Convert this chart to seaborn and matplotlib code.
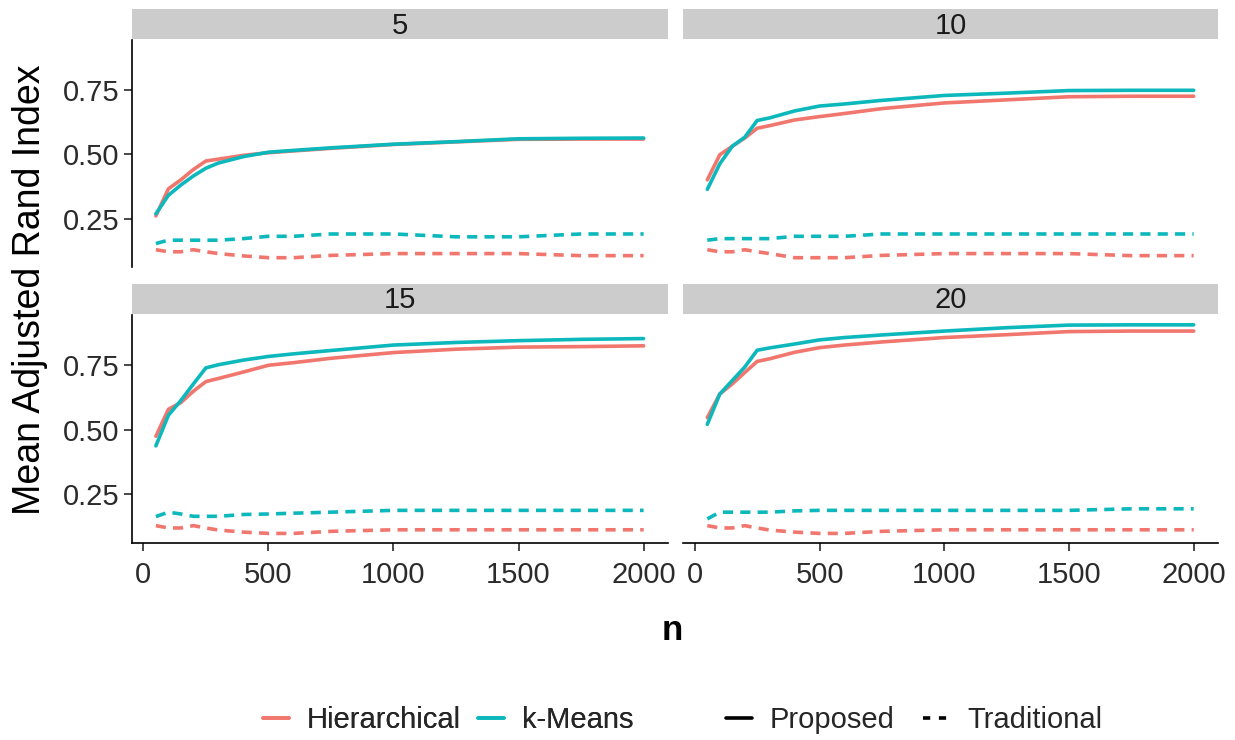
import numpy as np
import pandas as pd
import matplotlib.pyplot as plt
import seaborn as sns
from matplotlib.lines import Line2D

sns.set_style("white")
plt.rcParams['font.family'] = ['Liberation Sans', 'DejaVu Sans']

# values
n_values = [50, 100, 150, 200, 250, 300, 400, 500, 600, 750, 1000, 1250, 1500, 1750, 2000]
panels = [5, 10, 15, 20]
methods = ["Hierarchical", "k-Means"]
types = ["Proposed", "Traditional"]

hier_prop = {
    5:  [0.260, 0.365, 0.400, 0.440, 0.473, 0.480, 0.495, 0.505, 0.512, 0.522, 0.537, 0.547, 0.557, 0.558, 0.558],
    10: [0.400, 0.497, 0.530, 0.562, 0.600, 0.610, 0.632, 0.645, 0.657, 0.676, 0.698, 0.710, 0.722, 0.724, 0.724],
    15: [0.474, 0.578, 0.604, 0.648, 0.685, 0.697, 0.722, 0.748, 0.758, 0.775, 0.797, 0.810, 0.818, 0.820, 0.823],
    20: [0.546, 0.637, 0.676, 0.720, 0.763, 0.773, 0.798, 0.816, 0.826, 0.838, 0.855, 0.866, 0.878, 0.880, 0.880],
}
kmeans_prop = {
    5:  [0.268, 0.340, 0.380, 0.415, 0.445, 0.465, 0.490, 0.507, 0.514, 0.524, 0.538, 0.548, 0.559, 0.561, 0.562],
    10: [0.363, 0.462, 0.530, 0.565, 0.630, 0.640, 0.667, 0.686, 0.694, 0.708, 0.727, 0.736, 0.746, 0.747, 0.747],
    15: [0.437, 0.555, 0.612, 0.676, 0.738, 0.750, 0.768, 0.782, 0.792, 0.805, 0.826, 0.836, 0.843, 0.848, 0.851],
    20: [0.520, 0.637, 0.689, 0.741, 0.806, 0.815, 0.830, 0.846, 0.855, 0.865, 0.880, 0.893, 0.903, 0.904, 0.904],
}
hier_trad = {
    5:  [0.129, 0.121, 0.121, 0.129, 0.121, 0.114, 0.105, 0.098, 0.098, 0.107, 0.114, 0.114, 0.114, 0.106, 0.106],
    10: [0.129, 0.121, 0.121, 0.129, 0.121, 0.114, 0.098, 0.098, 0.098, 0.107, 0.114, 0.114, 0.114, 0.106, 0.106],
    15: [0.129, 0.120, 0.120, 0.129, 0.120, 0.112, 0.104, 0.099, 0.099, 0.107, 0.113, 0.113, 0.113, 0.113, 0.113],
    20: [0.129, 0.120, 0.120, 0.129, 0.120, 0.112, 0.104, 0.099, 0.099, 0.107, 0.113, 0.113, 0.113, 0.113, 0.113],
}
kmeans_trad = {
    5:  [0.153, 0.166, 0.166, 0.166, 0.166, 0.166, 0.172, 0.181, 0.181, 0.190, 0.190, 0.179, 0.179, 0.190, 0.190],
    10: [0.166, 0.172, 0.172, 0.172, 0.172, 0.172, 0.181, 0.181, 0.181, 0.190, 0.190, 0.190, 0.190, 0.190, 0.190],
    15: [0.164, 0.181, 0.174, 0.165, 0.165, 0.165, 0.172, 0.174, 0.177, 0.181, 0.188, 0.188, 0.188, 0.188, 0.188],
    20: [0.155, 0.181, 0.181, 0.181, 0.181, 0.181, 0.186, 0.188, 0.188, 0.188, 0.188, 0.188, 0.188, 0.194, 0.194],
}

rows = []
for k in panels:
    for meth, typ, src in [("Hierarchical", "Proposed", hier_prop), ("k-Means", "Proposed", kmeans_prop),
                           ("Hierarchical", "Traditional", hier_trad), ("k-Means", "Traditional", kmeans_trad)]:
        for n, v in zip(n_values, src[k]):
            rows.append((k, n, meth, typ, v))
df = pd.DataFrame(rows, columns=["k", "n", "method", "type", "ari"])

palette = {"Hierarchical": "#F0766E", "k-Means": "#0CB8BC"}
dash_map = {"Proposed": "", "Traditional": (2.8, 2.0)}

W, H = 1235, 740
fig = plt.figure(figsize=(W / 100, H / 100), dpi=100)

# panel boxes in pixels: (left, top, right, bottom)
boxes = {5: (131.5, 40, 668, 267), 10: (683, 40, 1218, 267),
         15: (131.5, 315, 668, 543), 20: (683, 315, 1218, 543)}
strip_h = 30
tick_col = "#2B2B2B"
lw = 2.6

for k in panels:
    l, t, r, b = boxes[k]
    ax = fig.add_axes([l / W, 1 - b / H, (r - l) / W, (b - t) / H])
    sns.lineplot(data=df[df.k == k], x="n", y="ari", hue="method", style="type",
                 palette=palette, dashes=dash_map, errorbar=None, legend=False,
                 linewidth=lw, ax=ax)
    ax.set_xlim(-47.5, 2097.5)
    ax.set_ylim(0.062, 0.942)
    ax.set_xticks([0, 500, 1000, 1500, 2000])
    ax.set_yticks([0.25, 0.50, 0.75])
    ax.set_yticklabels(["0.25", "0.50", "0.75"])
    ax.set_xlabel("")
    ax.set_ylabel("")
    for s in ["top", "right"]:
        ax.spines[s].set_visible(False)
    left_col = k in (5, 15)
    bottom_row = k in (15, 20)
    ax.spines["left"].set_visible(left_col)
    ax.spines["bottom"].set_visible(bottom_row)
    for s in ["left", "bottom"]:
        ax.spines[s].set_color("black")
        ax.spines[s].set_linewidth(1.2)
    ax.tick_params(axis="y", left=left_col, labelleft=left_col, length=6, width=1.2,
                   color=tick_col, labelcolor=tick_col, labelsize=21, pad=3)
    ax.tick_params(axis="x", bottom=bottom_row, labelbottom=bottom_row, length=6, width=1.2,
                   color=tick_col, labelcolor=tick_col, labelsize=21, pad=7)

    # facet strip
    sax = fig.add_axes([l / W, 1 - (t - 1) / H, (r - l) / W, strip_h / H])
    sax.set_facecolor("#CCCCCC")
    sax.set_xticks([])
    sax.set_yticks([])
    for s in sax.spines.values():
        s.set_visible(False)
    sax.text(0.5, 0.45, str(k), ha="center", va="center", fontsize=21, color="#1A1A1A",
             transform=sax.transAxes)

fig.text(30 / W, 1 - 290 / H, "Mean Adjusted Rand Index", rotation=90, ha="center",
         va="center", fontsize=27, color="black")
fig.text(672 / W, 1 - 630 / H, "n", ha="center", va="center", fontsize=25,
         fontweight="bold", color="black")

col_handles = [Line2D([], [], color=palette[m], lw=lw) for m in methods]
lt_handles = [Line2D([], [], color="black", lw=lw, linestyle="-"),
              Line2D([], [], color="black", lw=lw, dashes=(2.0, 2.4))]

leg_kw = dict(ncol=2, frameon=False, fontsize=21, handlelength=0.9, handletextpad=0.6,
              loc="center")
leg1 = fig.legend(col_handles, methods, bbox_to_anchor=(448 / W, 1 - 720 / H),
                  columnspacing=0.6, **leg_kw)
fig.add_artist(leg1)
fig.legend(lt_handles, types, bbox_to_anchor=(914 / W, 1 - 720 / H),
           columnspacing=1.0, **leg_kw)

fig.savefig("out.png", dpi=100, facecolor="white")
